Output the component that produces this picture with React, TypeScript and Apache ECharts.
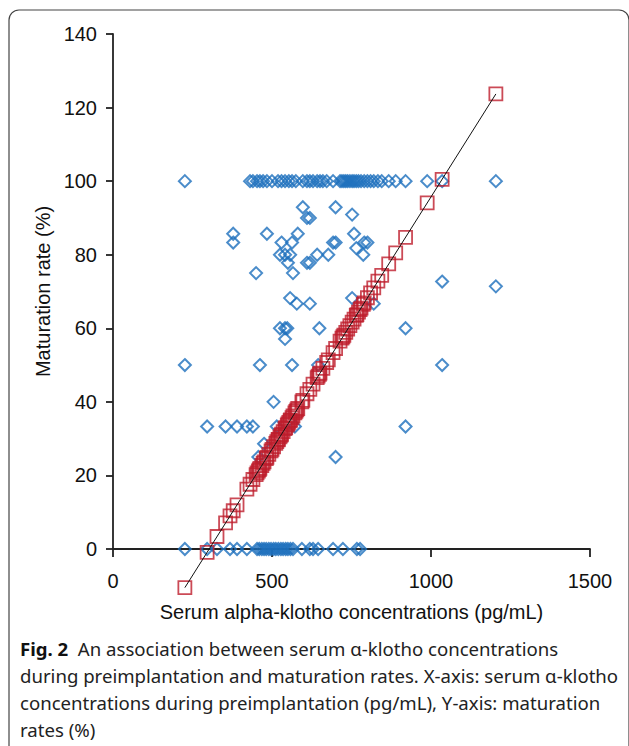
import React, { useEffect, useRef } from "react";
import * as echarts from "echarts";

// ---- data ----
// x tick labels: 0, 500, 1000, 1500 ; y tick labels: 0..140 step 20
const xTicks = [0, 500, 1000, 1500];
const yTicks = [0, 20, 40, 60, 80, 100, 120, 140];

// observed maturation rate 100 %: serum alpha-klotho (pg/mL)
const fullMaturationX = [
  226, 431, 440, 453, 462, 472, 484, 500, 519, 530, 541, 553, 563, 575, 597, 610,
  619, 629, 642, 651, 660, 672, 692, 714, 720, 726, 732, 738, 745, 752, 758, 765,
  772, 780, 790, 800, 810, 820, 833, 845, 867, 889, 920, 988, 1035, 1204,
];

// observed maturation rate 0 %
const zeroMaturationX = [
  226, 296, 327, 368, 390, 421, 453, 460, 468, 475, 482, 490, 497, 505, 512, 520,
  528, 535, 543, 550, 558, 566, 594, 619, 629, 645, 692, 723, 767, 777,
];

// observed intermediate maturation rates [x, y]
const partialPoints: [number, number][] = [
  [597, 92.9], [700, 92.9], [752, 90.9], [610, 90], [619, 90],
  [378, 85.7], [378, 83.3], [484, 85.7], [581, 85.7], [758, 85.7],
  [530, 83.3], [563, 83.3], [692, 83.3], [700, 83.3], [790, 83.3], [800, 83.3],
  [525, 80], [541, 80], [557, 80], [550, 77.8], [642, 80], [610, 77.8], [619, 77.8],
  [677, 80], [765, 81.8], [787, 80],
  [450, 75], [566, 75],
  [557, 68.2], [578, 66.7], [619, 66.7], [752, 68.2], [820, 66.7],
  [525, 60], [541, 60], [548, 60], [541, 57.1], [649, 60], [920, 60],
  [226, 50], [462, 50], [563, 50], [645, 50], [1035, 50],
  [1035, 72.7], [1204, 71.4],
  [505, 40],
  [296, 33.3], [354, 33.3], [390, 33.3], [421, 33.3], [440, 33.3], [515, 33.3], [572, 33.3], [920, 33.3],
  [475, 28.6], [457, 25], [700, 25],
];

// predicted (fitted) maturation rates [x, y]
const fittedPoints: [number, number][] = [
  [226, -10.5], [296, -0.9], [327, 3.4], [354, 7.1], [368, 9.0], [378, 10.4], [390, 12.0],
  [421, 16.3], [431, 17.6], [440, 18.9], [450, 20.2], [453, 20.7], [457, 21.2], [460, 21.6],
  [462, 21.9], [468, 22.7], [472, 23.3], [475, 23.7], [482, 24.6], [484, 24.9], [490, 25.7],
  [497, 26.7], [500, 27.1], [505, 27.8], [512, 28.7], [515, 29.2], [519, 29.7], [520, 29.8],
  [525, 30.5], [528, 30.9], [530, 31.2], [535, 31.9], [541, 32.7], [543, 33.0], [548, 33.7],
  [550, 34.0], [553, 34.4], [557, 34.9], [558, 35.1], [563, 35.7], [566, 36.2], [572, 37.0],
  [575, 37.4], [578, 37.8], [581, 38.2], [594, 40.0], [597, 40.4], [610, 42.2], [619, 43.4],
  [629, 44.8], [642, 46.6], [645, 47.0], [649, 47.5], [651, 47.8], [660, 49.1], [672, 50.7],
  [677, 51.4], [692, 53.4], [700, 54.5], [714, 56.5], [720, 57.3], [723, 57.7], [726, 58.1],
  [732, 58.9], [738, 59.8], [745, 60.7], [752, 61.7], [758, 62.5], [765, 63.5], [767, 63.7],
  [772, 64.4], [777, 65.1], [780, 65.5], [787, 66.5], [790, 66.9], [800, 68.3], [810, 69.6],
  [820, 71.0], [833, 72.8], [845, 74.4], [867, 77.5], [889, 80.5], [920, 84.7], [988, 94.1],
  [1035, 100.5], [1204, 123.7],
];

// linear trend line end points
const trendLine: [number, number][] = [
  [226, -10.5],
  [1204, 123.7],
];

const xAxisTitle = "Serum alpha-klotho concentrations (pg/mL)";
const yAxisTitle = "Maturation rate (%)";
const captionLines = [
  "An association between serum α-klotho concentrations",
  "during preimplantation and maturation rates. X-axis: serum α-klotho",
  "concentrations during preimplantation (pg/mL), Y-axis: maturation",
  "rates (%)",
];

const AXIS_FONT = "'Liberation Sans', Arial, Helvetica, sans-serif";
const CAPTION_FONT = "'Noto Sans', 'Open Sans', sans-serif";
const BLUE = "#1d6fbd";
const RED = "#be1d2c";
const AXIS_COLOR = "#222222";

export default function App() {
  const ref = useRef<HTMLDivElement>(null);

  useEffect(() => {
    if (!ref.current) return;
    const chart = echarts.init(ref.current, null, { renderer: "svg" });

    const observed: [number, number][] = [
      ...fullMaturationX.map((x) => [x, 100] as [number, number]),
      ...zeroMaturationX.map((x) => [x, 0] as [number, number]),
      ...partialPoints,
    ];

    const captionY = [648, 675, 702, 729];

    chart.setOption({
      animation: false,
      backgroundColor: "#ffffff",
      grid: {
        left: 113,
        right: 39,
        top: 34,
        bottom: 197,
        containLabel: false,
        outerBoundsMode: "none",
      },
      xAxis: {
        type: "value",
        min: xTicks[0],
        max: xTicks[xTicks.length - 1],
        interval: 500,
        name: xAxisTitle,
        nameLocation: "middle",
        nameGap: 53,
        nameTextStyle: { fontFamily: AXIS_FONT, fontSize: 20, color: "#111" },
        axisLine: { show: true, onZero: true, lineStyle: { color: AXIS_COLOR, width: 1.8 } },
        axisTick: { show: true, inside: false, length: 8, lineStyle: { color: AXIS_COLOR, width: 1.8 } },
        axisLabel: {
          margin: 22,
          fontFamily: AXIS_FONT,
          fontSize: 20,
          color: "#111",
          formatter: (v: number) => String(v),
        },
        splitLine: { show: false },
      },
      yAxis: {
        type: "value",
        min: yTicks[0],
        max: yTicks[yTicks.length - 1],
        interval: 20,
        name: yAxisTitle,
        nameLocation: "middle",
        nameRotate: 90,
        nameGap: 59,
        nameTextStyle: { fontFamily: AXIS_FONT, fontSize: 20, color: "#111" },
        axisLine: { show: true, lineStyle: { color: AXIS_COLOR, width: 1.8 } },
        axisTick: { show: true, inside: false, length: 7, lineStyle: { color: AXIS_COLOR, width: 1.8 } },
        axisLabel: {
          margin: 16,
          fontFamily: AXIS_FONT,
          fontSize: 20,
          color: "#111",
          formatter: (v: number) => String(v),
        },
        splitLine: { show: false },
      },
      graphic: [
        {
          type: "rect",
          silent: true,
          shape: { x: 9, y: 10, width: 620, height: 800, r: 10 },
          style: { fill: "none", stroke: "#444", lineWidth: 1.2 },
          z: -10,
        },
        ...captionLines.map((line, i) => ({
          type: "text",
          silent: true,
          x: 20,
          y: captionY[i],
          style: {
            text: i === 0 ? "{b|Fig. 2}  " + line : line,
            fontFamily: CAPTION_FONT,
            fontSize: 18.6,
            fill: "#222",
            verticalAlign: "middle",
            align: "left",
            rich: {
              b: { fontFamily: CAPTION_FONT, fontSize: 18.6, fontWeight: "bold", fill: "#111" },
            },
          },
        })),
      ],
      series: [
        {
          name: "Observed",
          type: "scatter",
          data: observed,
          clip: false,
          symbol: "diamond",
          symbolSize: 12,
          itemStyle: { color: "rgba(0,0,0,0)", borderColor: BLUE, borderWidth: 2 },
          z: 2,
        },
        {
          name: "Predicted",
          type: "scatter",
          data: fittedPoints,
          clip: false,
          symbol: "rect",
          symbolSize: 13,
          itemStyle: { color: "rgba(0,0,0,0)", borderColor: RED, borderWidth: 1.8 },
          z: 3,
        },
        {
          name: "Trend",
          type: "line",
          data: trendLine,
          clip: false,
          showSymbol: false,
          symbol: "none",
          lineStyle: { color: "#111", width: 1 },
          z: 4,
        },
      ],
    });

    return () => chart.dispose();
  }, []);

  return (
    <div
      ref={ref}
      style={{ position: "absolute", left: 0, top: 0, width: 629, height: 746, background: "#fff" }}
    />
  );
}
